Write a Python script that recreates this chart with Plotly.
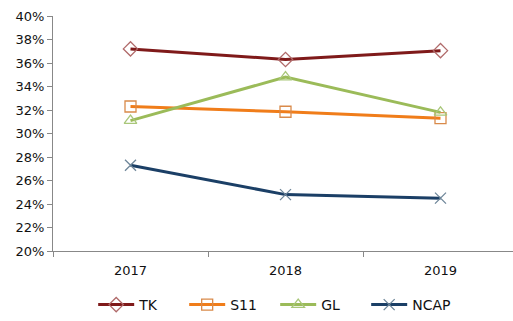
import plotly.graph_objects as go

years = ["2017", "2018", "2019"]
tk = [37.2, 36.3, 37.05]
s11 = [32.3, 31.85, 31.3]
gl = [31.1, 34.8, 31.8]
ncap = [27.3, 24.8, 24.5]

y_ticks = list(range(20, 41, 2))
y_labels = [f"{v}%" for v in y_ticks]

series = [
    ("TK", tk, "#7F1A1A", "diamond-open", "#B06A6A"),
    ("S11", s11, "#F07D1A", "square-open", "#D98A4A"),
    ("GL", gl, "#9BBB59", "triangle-up-open", "#A9C77A"),
    ("NCAP", ncap, "#1B3F66", "x-thin-open", "#6E8699"),
]

fig = go.Figure()
for name, vals, lc, sym, mc in series:
    fig.add_trace(go.Scatter(
        x=years, y=vals, name=name, mode="lines+markers",
        line=dict(color=lc, width=3),
        marker=dict(symbol=sym, size=11, color=mc,
                    line=dict(color=mc, width=1.3)),
    ))

fig.update_layout(
    width=513, height=321,
    margin=dict(l=53, r=0, t=16, b=68),
    paper_bgcolor="white", plot_bgcolor="white",
    font=dict(family="DejaVu Sans", size=12, color="#111"),
    showlegend=True,
    legend=dict(orientation="h", x=0.483, xanchor="center", y=-0.232,
                yanchor="middle", font=dict(size=14), itemwidth=36,
                entrywidth=40, tracegroupgap=0),
    xaxis=dict(type="category", range=[-0.5, -0.5 + 460 / 155],
               showgrid=False, showline=True, linecolor="#888", linewidth=1,
               ticks="outside", tickson="boundaries", ticklen=5,
               tickcolor="#888", tickfont=dict(size=13),
               ticklabelstandoff=7),
    yaxis=dict(range=[20, 40], tickvals=y_ticks, ticktext=y_labels,
               showgrid=False, showline=True, linecolor="#888", linewidth=1,
               ticks="outside", ticklen=5, tickcolor="#888",
               tickfont=dict(size=13), zeroline=False),
)

fig.write_html("out.html")
